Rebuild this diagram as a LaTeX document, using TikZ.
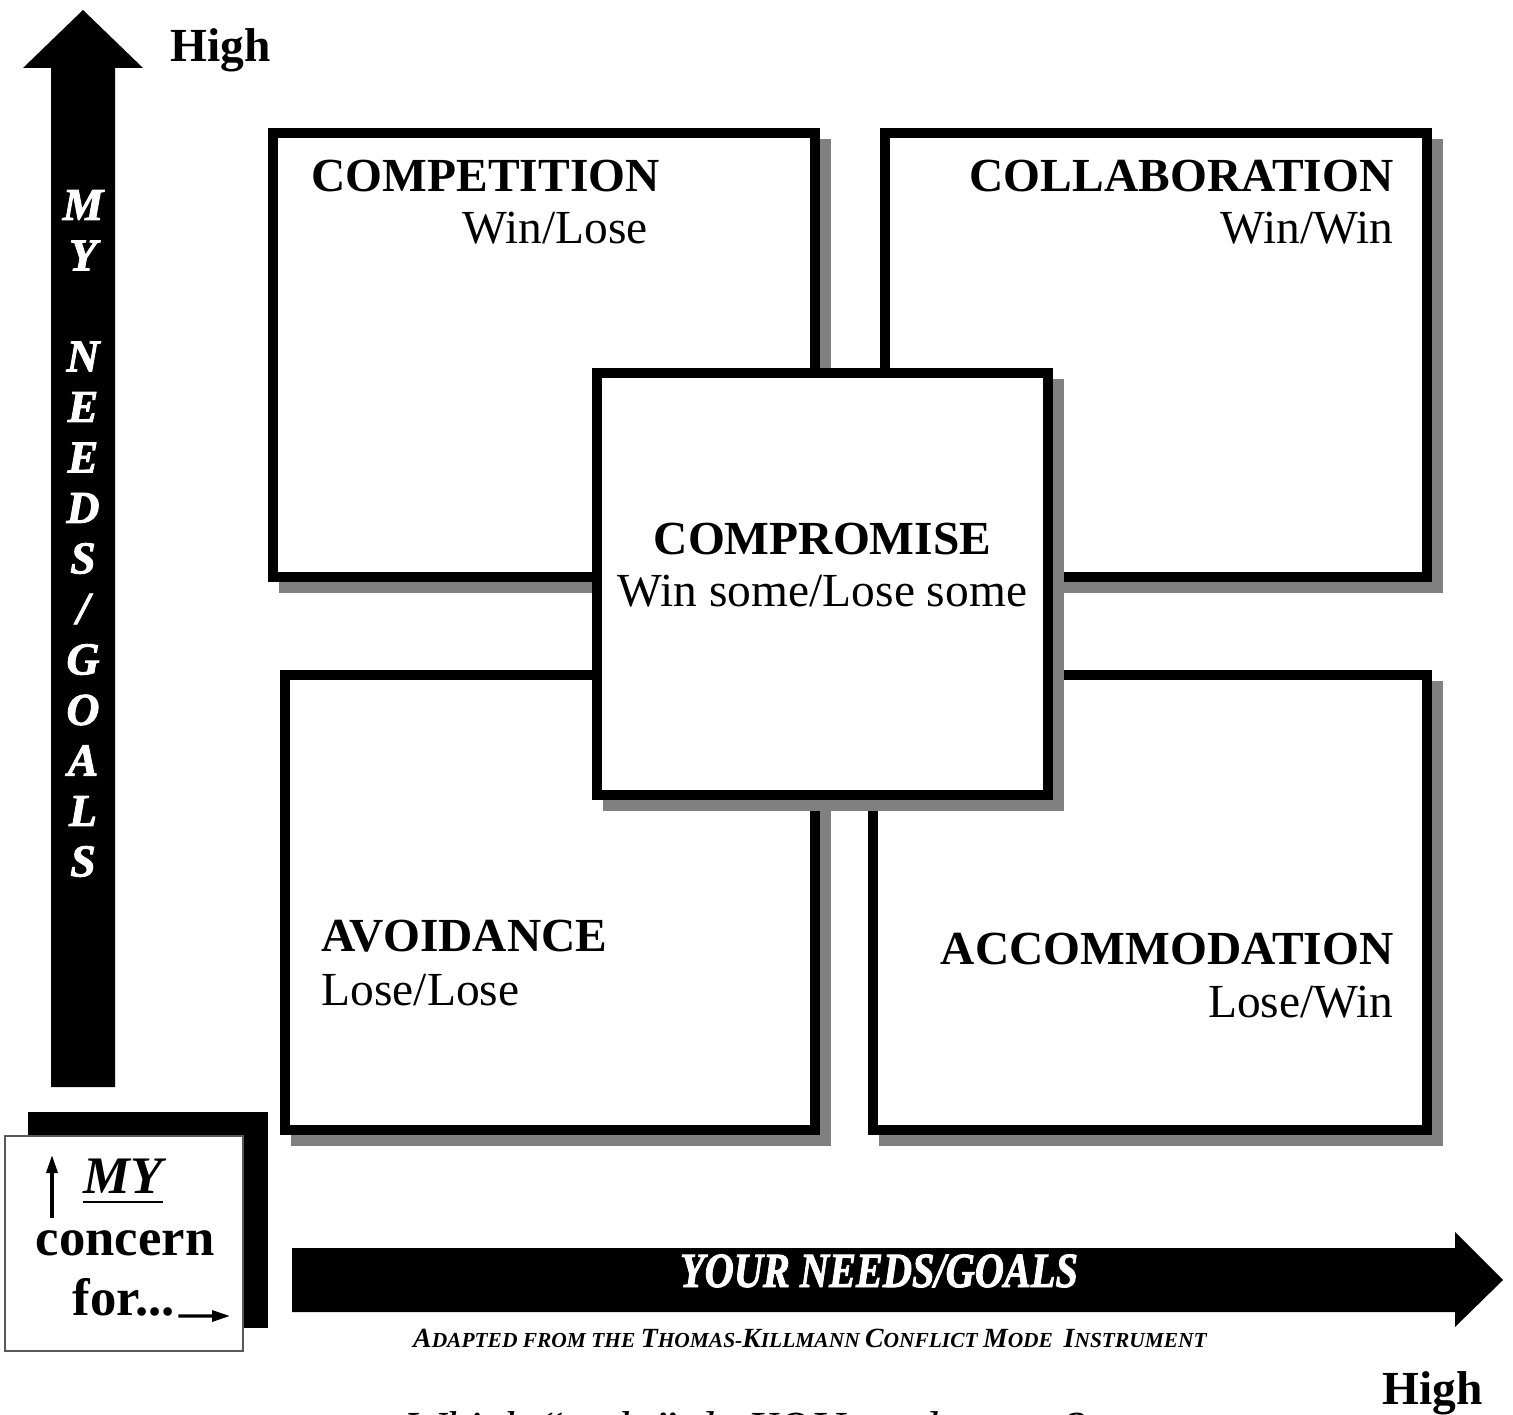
\documentclass[tikz,border=0pt]{standalone}
\usepackage{fontspec}
\setmainfont{Liberation Serif}
\newfontfamily\fatfont{Liberation Serif Bold Italic}[FakeBold=2]
\usetikzlibrary{arrows.meta}

\newcommand{\scinitial}[1]{{\fontsize{7.9}{8}\selectfont #1}}

\tikzset{
	modebox/.style={draw=black, line width=0.1cm, fill=white, inner sep=0pt,
		preaction={draw=black!50, fill=black!50, transform canvas={shift={(0.11,-0.11)}}}},
	modename/.style={inner sep=0pt, font=\fontsize{13.5}{16}\selectfont\bfseries},
	outcome/.style={inner sep=0pt, font=\fontsize{13.5}{16}\selectfont},
	axisletter/.style={inner sep=0pt, text=white, font=\fontsize{13}{15}\selectfont\fatfont},
	legendtext/.style={inner sep=0pt, anchor=base west, font=\fontsize{15}{17}\selectfont\bfseries},
	thinarrow/.style={line width=0.9pt, -{Triangle[length=1.8mm,width=1.1mm]}},
}

\begin{document}
\begin{tikzpicture}
	\useasboundingbox (0,0) rectangle (15.13,14.14);

	% vertical axis
	\fill (0.51,3.27) -- (0.51,13.46) -- (0.23,13.46) -- (0.83,14.04) -- (1.43,13.46) -- (1.15,13.46) -- (1.15,3.27) -- cycle;
	\foreach \ch/\i in {M/0,Y/1,N/3,E/4,E/5,D/6,S/7,{/}/8,G/9,O/10,A/11,L/12,S/13}
		\node[axisletter] (my-\i) at (0.83,{12.09-0.505*\i}) {\ch};
	\node[modename, anchor=base west] (high-my) at (1.70,13.52) {High};

	% the five modes
	\node[modebox, minimum width=5.42cm, minimum height=4.44cm] (competition) at (5.44,10.59) {};
	\node[modebox, minimum width=5.42cm, minimum height=4.44cm] (collaboration) at (11.56,10.59) {};
	\node[modebox, minimum width=5.30cm, minimum height=4.55cm] (avoidance) at (5.50,5.115) {};
	\node[modebox, minimum width=5.54cm, minimum height=4.55cm] (accommodation) at (11.50,5.115) {};
	\node[modebox, minimum width=4.51cm, minimum height=4.22cm] (compromise) at (8.225,8.30) {};

	\node[modename, anchor=base west] (competition-t) at ([shift={(0.43,-0.64)}]competition.north west) {COMPETITION};
	\node[outcome, anchor=base west] (competition-o) at ([shift={(1.94,-1.16)}]competition.north west) {Win/Lose};

	\node[modename, anchor=base east] (collaboration-t) at ([shift={(-0.38,-0.64)}]collaboration.north east) {COLLABORATION};
	\node[outcome, anchor=base east] (collaboration-o) at ([shift={(-0.38,-1.16)}]collaboration.north east) {Win/Win};

	\node[modename, anchor=base] (compromise-t) at ([yshift=-1.87cm]compromise.north) {COMPROMISE};
	\node[outcome, anchor=base] (compromise-o) at ([yshift=-2.39cm]compromise.north) {Win some/Lose some};

	\node[modename, anchor=base west] (avoidance-t) at ([shift={(0.41,-2.81)}]avoidance.north west) {AVOIDANCE};
	\node[outcome, anchor=base west] (avoidance-o) at ([shift={(0.41,-3.35)}]avoidance.north west) {Lose/Lose};

	\node[modename, anchor=base east] (accommodation-t) at ([shift={(-0.38,-2.94)}]accommodation.north east) {ACCOMMODATION};
	\node[outcome, anchor=base east] (accommodation-o) at ([shift={(-0.38,-3.47)}]accommodation.north east) {Lose/Win};

	% horizontal axis
	\fill (2.92,1.02) -- (2.92,1.66) -- (14.55,1.66) -- (14.55,1.82) -- (15.03,1.34) -- (14.55,0.87) -- (14.55,1.02) -- cycle;
	\node[anchor=base, inner sep=0pt, text=white, font=\fontsize{14}{16}\selectfont\fatfont, xscale=0.82] (your-axis) at (8.79,1.27) {YOUR NEEDS/GOALS};
	\node[anchor=base, inner sep=0pt, font=\fontsize{6.1}{7}\selectfont\bfseries\itshape] (source) at (8.10,0.67)
		{\scinitial{A}DAPTED FROM THE \scinitial{T}HOMAS-\scinitial{K}ILLMANN \scinitial{C}ONFLICT \scinitial{M}ODE\ \ \scinitial{I}NSTRUMENT};
	\node[modename, anchor=base west] (high-your) at (13.82,0.10) {High};

	% legend
	\node[fill=black, inner sep=0pt, minimum width=2.40cm, minimum height=2.16cm] (legend-back) at (1.48,1.94) {};
	\node[draw=black!65, line width=0.5pt, fill=white, inner sep=0pt, minimum width=2.38cm, minimum height=2.15cm] (legend) at (1.24,1.705) {};
	\node[legendtext, font=\fontsize{15}{17}\selectfont\bfseries\itshape] (legend-my) at (0.83,2.21) {MY};
	\draw[line width=0.8pt] ([yshift=-0.09cm]legend-my.base west) -- ([yshift=-0.09cm]legend-my.base east);
	\node[legendtext] (legend-concern) at (0.35,1.59) {concern};
	\node[legendtext] (legend-for) at (0.72,0.99) {for...};
	\coordinate (up-tail) at (0.52,1.96);
	\coordinate (up-tip) at (0.52,2.59);
	\coordinate (right-tip) at (2.30,0.98);
	\draw[thinarrow] (up-tail) -- (up-tip);
	\draw[thinarrow] ([shift={(0.03,-0.01)}]legend-for.base east) -- (right-tip);

	% question, cut off at the page edge
	\begin{scope}
		\clip (0,0) rectangle (15.13,14.14);
		\node[anchor=base west, inner sep=0pt, font=\fontsize{13.5}{16}\selectfont\itshape] (question) at (4.05,-0.30) {Which “style” do YOU tend to use?};
	\end{scope}

\end{tikzpicture}
\end{document}
